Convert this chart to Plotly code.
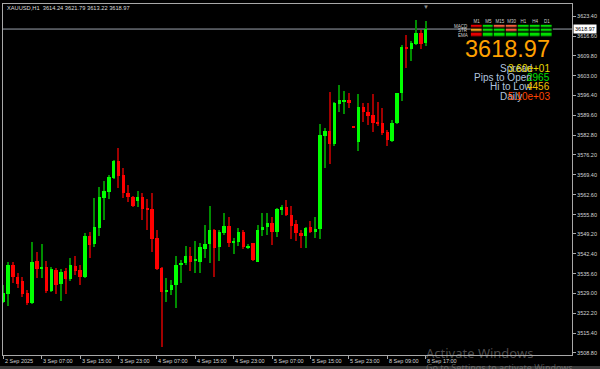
import plotly.graph_objects as go

# ---------------- data ----------------
symbol = "XAUUSD,H1"

opens = [3526.05, 3528.77, 3538.65, 3534.56, 3533.20, 3529.11, 3525.71, 3540.01, 3537.28, 3537.97,
         3529.79, 3536.94, 3532.18, 3536.60, 3533.88, 3538.31, 3536.94, 3534.56, 3548.52, 3545.80,
         3551.24, 3561.45, 3563.49, 3568.25, 3574.05, 3569.28, 3563.15, 3561.90, 3560.50, 3561.90,
         3558.15, 3557.71, 3547.84, 3537.63, 3529.45, 3530.00, 3531.70, 3538.65, 3539.20, 3541.80,
         3540.20, 3539.67, 3544.09, 3545.80, 3550.56, 3544.77, 3549.54, 3551.92, 3546.14, 3546.48,
         3549.88, 3544.43, 3546.14, 3539.67, 3550.56, 3551.58, 3552.94, 3549.88, 3557.37, 3558.39,
         3555.67, 3552.60, 3549.54, 3548.52, 3551.58, 3549.88, 3550.90, 3582.56, 3584.26, 3579.83,
         3593.45, 3594.47, 3594.81, 3585.70, 3580.51, 3592.43, 3590.72, 3589.70, 3587.32, 3586.98,
         3583.92, 3580.85, 3586.98, 3597.19, 3612.85, 3612.17, 3613.87, 3617.62, 3614.24]
highs = [3531.84, 3539.67, 3539.67, 3535.92, 3534.56, 3530.13, 3546.48, 3543.07, 3545.80, 3540.01,
         3537.97, 3537.63, 3537.28, 3537.63, 3541.03, 3541.71, 3538.65, 3549.54, 3549.88, 3561.45,
         3565.19, 3567.23, 3569.28, 3574.39, 3578.47, 3571.66, 3565.87, 3562.20, 3563.83, 3563.00,
         3561.00, 3563.15, 3550.56, 3537.80, 3534.10, 3533.50, 3541.60, 3540.35, 3545.11, 3544.77,
         3546.82, 3546.14, 3552.26, 3558.73, 3550.90, 3550.56, 3556.35, 3554.98, 3547.84, 3551.24,
         3550.56, 3545.80, 3546.30, 3552.26, 3556.35, 3556.35, 3554.98, 3558.05, 3559.07, 3560.77,
         3558.73, 3553.96, 3550.56, 3551.58, 3553.62, 3554.98, 3586.64, 3585.28, 3597.53, 3594.13,
         3599.92, 3597.87, 3597.19, 3585.90, 3596.85, 3593.79, 3593.79, 3596.85, 3594.13, 3592.09,
         3584.60, 3588.00, 3597.30, 3613.53, 3616.94, 3614.89, 3622.04, 3618.64, 3621.79]
lows = [3525.70, 3524.69, 3532.52, 3530.82, 3527.75, 3525.00, 3525.40, 3534.22, 3534.22, 3529.11,
        3529.45, 3528.77, 3526.39, 3528.77, 3533.20, 3535.24, 3531.84, 3534.30, 3541.03, 3544.77,
        3548.52, 3553.96, 3561.11, 3568.00, 3564.85, 3561.45, 3560.09, 3558.40, 3558.40, 3553.96,
        3550.56, 3543.07, 3537.00, 3510.73, 3526.10, 3528.30, 3524.10, 3532.40, 3538.50, 3536.70,
        3535.90, 3535.92, 3541.03, 3539.33, 3534.56, 3540.01, 3548.86, 3544.77, 3542.39, 3545.11,
        3544.09, 3544.09, 3540.01, 3539.50, 3548.52, 3548.86, 3545.45, 3548.18, 3555.67, 3555.32,
        3547.50, 3546.82, 3544.43, 3544.43, 3549.54, 3547.84, 3547.50, 3571.66, 3573.03, 3579.15,
        3590.72, 3590.04, 3592.09, 3585.30, 3577.45, 3587.32, 3586.30, 3583.92, 3585.96, 3582.90,
        3579.15, 3580.51, 3586.80, 3594.47, 3605.70, 3608.09, 3613.70, 3612.17, 3613.22]
closes = [3529.11, 3538.65, 3534.56, 3532.18, 3528.77, 3525.71, 3539.67, 3537.28, 3537.97, 3529.79,
          3537.28, 3531.84, 3536.26, 3533.88, 3538.65, 3536.60, 3534.56, 3548.52, 3545.45, 3551.58,
          3561.79, 3563.83, 3568.60, 3574.05, 3568.94, 3563.15, 3561.79, 3558.73, 3561.90, 3557.71,
          3557.37, 3547.50, 3537.28, 3529.45, 3530.13, 3531.84, 3538.65, 3539.40, 3541.80, 3539.80,
          3540.50, 3544.77, 3545.80, 3550.56, 3544.43, 3549.88, 3551.92, 3546.14, 3546.82, 3549.88,
          3544.77, 3545.11, 3540.35, 3550.56, 3551.58, 3552.94, 3549.88, 3557.71, 3558.39, 3555.67,
          3551.92, 3549.54, 3548.52, 3551.24, 3549.88, 3550.90, 3582.90, 3584.26, 3579.83, 3593.79,
          3594.81, 3594.81, 3593.79, 3585.50, 3592.43, 3590.72, 3589.36, 3586.98, 3586.98, 3583.58,
          3581.19, 3586.98, 3597.19, 3612.85, 3612.17, 3614.21, 3617.62, 3613.87, 3618.97]

time_tick_idx = [0, 8, 16, 24, 32, 40, 48, 56, 64, 72, 80, 88]
time_tick_text = ["2 Sep 2025", "3 Sep 07:00", "3 Sep 15:00", "3 Sep 23:00", "4 Sep 07:00",
                  "4 Sep 15:00", "4 Sep 23:00", "5 Sep 07:00", "5 Sep 15:00", "5 Sep 23:00",
                  "8 Sep 09:00", "8 Sep 17:00"]
price_ticks = [3623.40, 3616.60, 3609.80, 3603.00, 3596.40, 3589.60, 3582.80, 3576.20, 3569.40,
               3562.60, 3555.80, 3549.20, 3542.40, 3535.60, 3529.00, 3522.20, 3515.40, 3508.80]

timeframes = ["M1", "M5", "M15", "M30", "H1", "H4", "D1"]
indicators = ["MACD", "STR", "EMA"]
# 0 = red, 1 = tomato, 2 = orange, 3 = green
signal_grid = [[0, 3, 1, 1, 3, 3, 3],
               [2, 3, 3, 1, 3, 3, 3],
               [0, 3, 3, 3, 3, 3, 3]]

info_labels = ["Spread", "Pips to Open", "Hi to Low", "Daily"]
info_values = ["3.60e+01", "2965", "4456", "5.10e+03"]

# ---------------- styling ----------------
W, H = 600, 369
LM, RM, TM, BM = 3, 28, 4, 14
PW = W - LM - RM
PH = H - TM - BM


def px(x):
    return (x - LM) / PW


def py(y):
    return (H - BM - y) / PH


FRAME = "#a8a8a8"
AXFONT = dict(family="Liberation Sans, Arial, sans-serif", size=5.5, color="#d4d4d4")
SMALLFONT = dict(family="Liberation Sans, Arial", size=4.5, color="#cfcfcf")
UP_BODY, DN_BODY = "#00FF00", "#FF0000"
UP_WICK, DN_WICK = "#008C00", "#A00000"
info_colors = ["#E8D800", "#00E000", "#F0C000", "#FF4500"]
sig_colors = ["#E80000", "#F4603C", "#F0A020", "#00E000"]

n = len(opens)
idx = list(range(n))
up = [i for i in idx if closes[i] >= opens[i]]
dn = [i for i in idx if closes[i] < opens[i]]

MIN_BODY = 0.36


def body_parts(sel):
    bases, hts = [], []
    for i in sel:
        lo, hi = min(opens[i], closes[i]), max(opens[i], closes[i])
        h = max(hi - lo, MIN_BODY)
        bases.append(lo - (h - (hi - lo)) / 2)
        hts.append(h)
    return bases, hts


fig = go.Figure()

for sel, col in ((up, UP_WICK), (dn, DN_WICK)):
    fig.add_trace(go.Bar(x=sel, base=[lows[i] for i in sel],
                         y=[highs[i] - lows[i] for i in sel],
                         width=0.22, marker=dict(color=col, line=dict(width=0)),
                         hoverinfo="skip"))
for sel, col in ((up, UP_BODY), (dn, DN_BODY)):
    b, h = body_parts(sel)
    fig.add_trace(go.Bar(x=sel, base=b, y=h, width=0.72,
                         marker=dict(color=col, line=dict(width=0)), hoverinfo="skip"))

# dashboard grid
cs = [[0, sig_colors[0]], [0.1667, sig_colors[0]], [0.1667, sig_colors[1]], [0.5, sig_colors[1]],
      [0.5, sig_colors[2]], [0.8333, sig_colors[2]], [0.8333, sig_colors[3]], [1, sig_colors[3]]]
fig.add_trace(go.Heatmap(z=signal_grid, x=timeframes, y=indicators, zmin=0, zmax=3,
                         colorscale=cs, showscale=False, xgap=1.2, ygap=1.6,
                         xaxis="x2", yaxis="y2", hoverinfo="skip"))

last = closes[-1]
annotations = [
    dict(text=f"{symbol}  {opens[-1]:.2f} {highs[-1]:.2f} {lows[-1]:.2f} {closes[-1]:.2f}",
         x=px(5), y=py(8), xref="paper", yref="paper", xanchor="left", yanchor="middle",
         showarrow=False, font=dict(family="Liberation Sans, Arial", size=5.7, color="#dcdcdc")),
    dict(text=f"{last:.2f}", x=1, xref="paper", y=last, yref="y", xanchor="left", yanchor="middle",
         xshift=1, showarrow=False, bgcolor="#ffffff", borderpad=1,
         font=dict(family="Liberation Sans, Arial", size=5.5, color="#000000")),
    dict(text=f"{last:.2f}", x=px(552), y=py(49), xref="paper", yref="paper", xanchor="right",
         yanchor="middle", showarrow=False,
         font=dict(family="Liberation Sans, Arial", size=23.5, color="#FFA000")),
    dict(text="▼", x=88, xref="x", y=py(6.5), yref="paper", xanchor="center", yanchor="middle",
         showarrow=False, font=dict(size=6, color="#8c8c8c")),
]
# row labels of the signal grid (placed on the grid's own category axis)
for name in indicators:
    annotations.append(dict(text=name, x=px(469.5), xref="paper", y=name, yref="y2",
                            xanchor="right", yanchor="middle", showarrow=False, font=SMALLFONT))

row_y = [68.5, 78, 87, 96]
for k, (lab, val, col) in enumerate(zip(info_labels, info_values, info_colors)):
    if lab == "Daily":
        annotations.append(dict(text=lab, x=px(498), y=py(row_y[k]), xref="paper", yref="paper",
                                xanchor="left", yanchor="middle", showarrow=False,
                                font=dict(family="Liberation Sans, Arial", size=10, color="#B0C4DE")))
    else:
        annotations.append(dict(text=lab, x=px(534), y=py(row_y[k]), xref="paper", yref="paper",
                                xanchor="right", yanchor="middle", showarrow=False,
                                font=dict(family="Liberation Sans, Arial", size=10, color="#B0C4DE")))
    annotations.append(dict(text=val, x=px(552), y=py(row_y[k]), xref="paper", yref="paper",
                            xanchor="right", yanchor="middle", showarrow=False,
                            font=dict(family="Liberation Sans, Arial", size=10, color=col)))
for t, lab in zip(time_tick_idx, time_tick_text):
    annotations.append(dict(text=lab, x=t, xref="x", y=py(360.5), yref="paper", xanchor="left",
                            yanchor="middle", xshift=-0.5, showarrow=False, font=AXFONT))
annotations += [
    dict(text="Activate Windows", x=px(424), y=py(353), xref="paper", yref="paper",
         xanchor="left", yanchor="middle", showarrow=False,
         font=dict(family="Noto Sans, Open Sans, sans-serif", size=13, color="rgba(185,185,185,0.42)")),
    dict(text="Go to Settings to activate Windows.", x=px(424), y=py(367), xref="paper", yref="paper",
         xanchor="left", yanchor="middle", showarrow=False,
         font=dict(family="Noto Sans, Open Sans, sans-serif", size=9, color="rgba(185,185,185,0.42)")),
]

shapes = [
    dict(type="line", xref="paper", x0=0, x1=1, yref="y", y0=last, y1=last,
         line=dict(color="#9ba3ad", width=1), layer="below"),
    dict(type="rect", xref="paper", x0=px(0), x1=px(600), yref="paper", y0=py(366), y1=py(369),
         fillcolor="#3a3a3a", line=dict(width=0), layer="above"),
]

fig.update_layout(
    width=W, height=H, margin=dict(l=LM, r=RM, t=TM, b=BM, pad=0),
    paper_bgcolor="#000000", plot_bgcolor="#000000", showlegend=False,
    barmode="overlay", bargap=0,
    xaxis=dict(range=[-0.06, 118.5], showgrid=False, zeroline=False, showline=True,
               linecolor=FRAME, linewidth=1, mirror=True, tickvals=time_tick_idx,
               ticks="outside", ticklen=3, tickcolor=FRAME, showticklabels=False, fixedrange=True),
    yaxis=dict(range=[3508.0, 3627.5], side="right", showgrid=False, zeroline=False,
               showline=True, linecolor=FRAME, linewidth=1, mirror=True,
               tickvals=price_ticks, ticktext=[f"{v:.2f}" for v in price_ticks],
               ticks="outside", ticklen=3, tickcolor=FRAME, tickfont=AXFONT, fixedrange=True),
    xaxis2=dict(domain=[px(470.7), px(552.7)], anchor="y2", side="top", showgrid=False,
                zeroline=False, showline=False, ticks="", type="category",
                categoryorder="array", categoryarray=timeframes, tickfont=SMALLFONT),
    yaxis2=dict(domain=[py(37.2), py(24.6)], anchor="x2", showgrid=False, zeroline=False,
                showline=False, ticks="", type="category", categoryorder="array",
                categoryarray=indicators, range=[2.5, -0.5], showticklabels=False),
    annotations=annotations, shapes=shapes,
)

fig.write_html("out.html")
